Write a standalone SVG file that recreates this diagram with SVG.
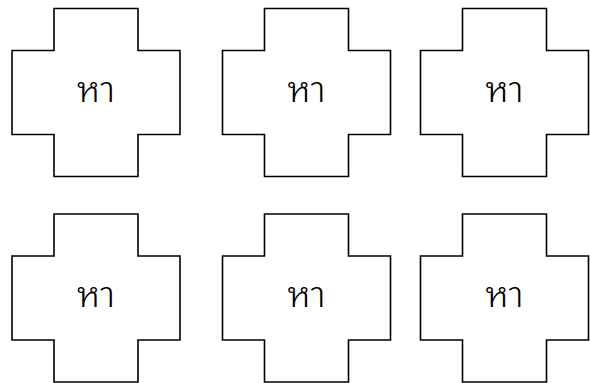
<svg xmlns="http://www.w3.org/2000/svg" width="590" height="383" viewBox="0 0 590 383">
<defs>
<style>
.cross{fill:#fff;stroke:#000;stroke-width:1.6}
.lbl{font-family:"Noto Sans Thai Looped","Noto Serif Thai","Loma","Garuda","Tlwg Typo","Noto Sans Thai",sans-serif;font-size:36px;font-weight:300;fill:#000;text-anchor:middle}
</style>
<path id="c" d="M42,0H126V42H168V126H126V168H42V126H0V42H42Z"/>
</defs>
<rect width="590" height="383" fill="#fff"/>
<g id="node1" transform="translate(12,8.5)"><use href="#c" class="cross"/><text class="lbl" x="84" y="93">หา</text></g>
<g id="node2" transform="translate(222.5,8.5)"><use href="#c" class="cross"/><text class="lbl" x="84" y="93">หา</text></g>
<g id="node3" transform="translate(420.5,8.5)"><use href="#c" class="cross"/><text class="lbl" x="84" y="93">หา</text></g>
<g id="node4" transform="translate(12,214)"><use href="#c" class="cross"/><text class="lbl" x="84" y="93">หา</text></g>
<g id="node5" transform="translate(222.5,214)"><use href="#c" class="cross"/><text class="lbl" x="84" y="93">หา</text></g>
<g id="node6" transform="translate(420.5,214)"><use href="#c" class="cross"/><text class="lbl" x="84" y="93">หา</text></g>
<g id="connectors"></g>
</svg>
